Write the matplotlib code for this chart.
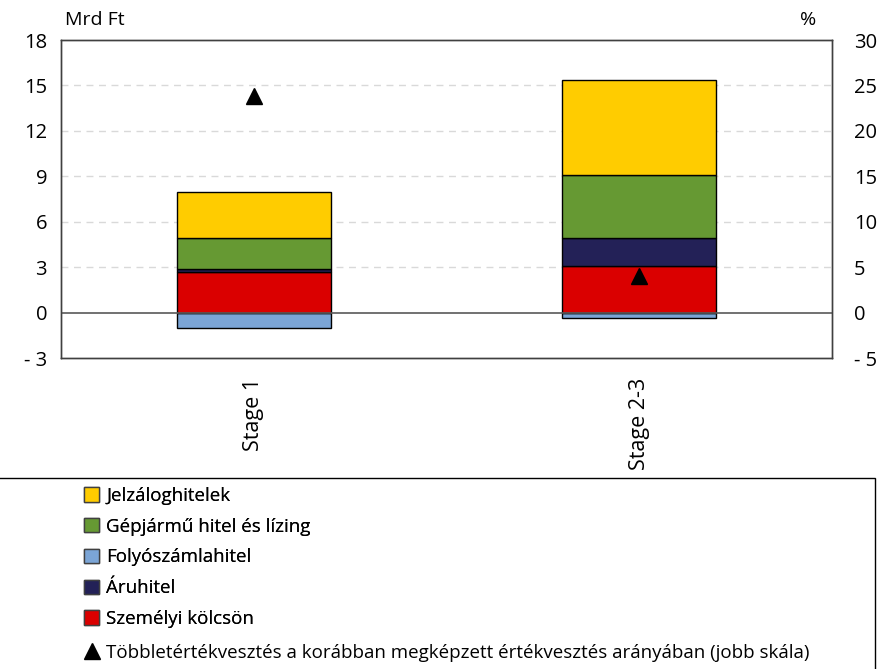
import matplotlib.pyplot as plt
import numpy as np
from matplotlib.patches import Patch, Rectangle
from matplotlib.lines import Line2D

plt.rcParams['font.family'] = ['Open Sans', 'DejaVu Sans']

categories = ['Stage 1', 'Stage 2-3']

# Mrd Ft, left scale
szemelyi = [2.68, 3.07]
aruhitel = [0.23, 1.84]
gepjarmu = [2.00, 4.17]
jelzalog = [3.07, 6.25]
folyoszamla = [-0.99, -0.38]

# %, right scale
tobblet = [23.8, 4.0]

left_ticks = [-3, 0, 3, 6, 9, 12, 15, 18]
left_labels = ['- 3', '0', '3', '6', '9', '12', '15', '18']
right_ticks = [-5, 0, 5, 10, 15, 20, 25, 30]
right_labels = ['- 5', '0', '5', '10', '15', '20', '25', '30']

c_jel = '#FFCC00'
c_gep = '#669933'
c_foly = '#7BA5D6'
c_aru = '#232157'
c_szem = '#DA0000'

fig = plt.figure(figsize=(8.9, 6.69), dpi=100)
ax = fig.add_axes([61/890, 1-358/669, (832-61)/890, (358-40)/669])
ax2 = ax.twinx()

x = np.arange(len(categories))
w = 0.40
ek = dict(edgecolor='black', linewidth=1.0, zorder=3)

ax.bar(x, folyoszamla, w, color=c_foly, **ek)
ax.bar(x, szemelyi, w, color=c_szem, **ek)
b1 = np.array(szemelyi)
ax.bar(x, aruhitel, w, bottom=b1, color=c_aru, **ek)
b2 = b1 + np.array(aruhitel)
ax.bar(x, gepjarmu, w, bottom=b2, color=c_gep, **ek)
b3 = b2 + np.array(gepjarmu)
ax.bar(x, jelzalog, w, bottom=b3, color=c_jel, **ek)

ax.set_xlim(-0.5, 1.5)
ax.set_ylim(-3, 18)
ax.set_yticks(left_ticks)
ax.set_yticklabels(left_labels)
for t in [3, 6, 9, 12, 15]:
    ax.axhline(t, color='#D9D9D9', linestyle=(0, (5, 4)), linewidth=1.0, zorder=1)
ax.axhline(0, color='#595959', linewidth=1.2, zorder=4)

ax.set_xticks(x)
ax.set_xticklabels(categories, rotation=90, fontsize=15.5)
ax.tick_params(axis='y', length=0, labelsize=14.5, pad=10)
ax.tick_params(axis='x', length=0, pad=14)

ax2.plot(x, tobblet, linestyle='none', marker='^', color='black', markersize=11, zorder=5)
ax2.set_ylim(-5, 30)
ax2.set_yticks(right_ticks)
ax2.set_yticklabels(right_labels)
ax2.tick_params(axis='y', length=0, labelsize=14.5, pad=16)

for a in (ax, ax2):
    for s in a.spines.values():
        s.set_color('#404040')
        s.set_linewidth(1.0)

fig.text(65/890, 1-20/669, 'Mrd Ft', fontsize=14, va='center', ha='left')
fig.text(808/890, 1-20/669, '%', fontsize=14, va='center', ha='center')

# legend box
box = Rectangle((-5/890, -5/669), 880/890, (669-478+5)/669,
                transform=fig.transFigure, facecolor='none',
                edgecolor='black', linewidth=1.0)
fig.add_artist(box)

handles = [
    Patch(facecolor=c_jel, edgecolor='#404040'),
    Patch(facecolor=c_gep, edgecolor='#404040'),
    Patch(facecolor=c_foly, edgecolor='#404040'),
    Patch(facecolor=c_aru, edgecolor='#404040'),
    Patch(facecolor=c_szem, edgecolor='#404040'),
]
labels = ['Jelzáloghitelek', 'Gépjármű hitel és lízing', 'Folyószámlahitel',
          'Áruhitel', 'Személyi kölcsön']
leg_kw = dict(frameon=False, fontsize=13.5, handlelength=0.8, handleheight=0.8,
              handletextpad=0.4, borderaxespad=0, borderpad=0)
leg1 = fig.legend(handles, labels, loc='upper left', bbox_to_anchor=(84/890, 1-487/669),
                  labelspacing=0.68, **leg_kw)
tri = Line2D([], [], linestyle='none', marker='^', color='black', markersize=11)
fig.legend([tri], ['Többletértékvesztés a korábban megképzett értékvesztés arányában (jobb skála)'],
           loc='center left', bbox_to_anchor=(84/890, 1-653/669), **leg_kw)
fig.add_artist(leg1)

fig.savefig('out.png', dpi=100)
